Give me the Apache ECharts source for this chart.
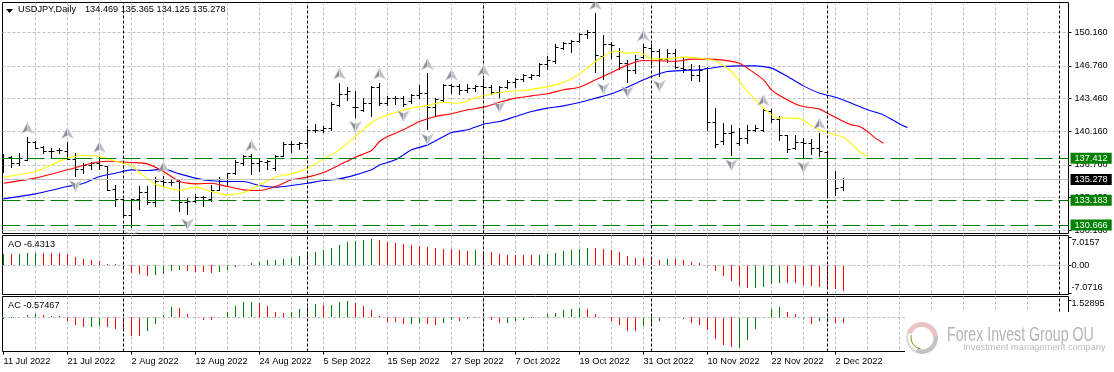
<!DOCTYPE html>
<html lang="en">
<head>
    <meta charset="UTF-8">
    <title>USDJPY Daily</title>
    <script src="https://cdn.jsdelivr.net/npm/echarts@6/dist/echarts.min.js"></script>
    <style>
        html, body { margin: 0; padding: 0; background: #fff; }
    </style>
</head>
<body>
    <div id="chart" style="width: 1114px; height: 372px;"></div>
    <script>
        // bar prices, one row per 10 bars
        var opens = [
            136.92,137.49,136.92,137.19,139.01,138.54,138.10,138.17,138.10,137.33,
            136.25,136.69,136.92,136.58,134.23,133.22,131.64,133.22,133.96,132.95,
            135.07,134.97,135.07,132.95,133.05,133.49,133.22,134.16,135.07,135.84,
            136.92,137.59,136.85,137.02,136.42,137.63,138.77,138.84,138.94,140.22,
            140.19,140.46,142.71,143.82,142.58,142.21,142.91,144.60,142.98,143.49,
            143.49,143.15,143.76,143.93,142.58,143.22,144.77,144.67,144.26,144.50,
            144.67,144.60,144.09,144.60,145.07,145.34,145.61,145.78,146.92,147.19,
            148.54,149.04,149.21,149.95,150.15,147.70,148.87,147.70,147.02,146.25,
            147.63,148.54,148.20,147.43,148.03,146.52,146.35,145.74,146.52,141.03,
            139.11,139.95,138.94,139.45,140.22,140.22,142.14,141.30,139.68,138.37,
            139.01,138.94,138.44,138.03,135.31,134.469
        ];
        var highs = [
            137.76,137.59,137.93,139.51,139.11,138.61,138.37,138.44,139.01,137.86,
            136.85,137.02,137.59,136.58,134.67,133.29,133.22,134.56,134.56,135.51,
            135.57,135.24,135.24,133.39,133.72,133.55,134.67,135.51,135.91,137.19,
            137.70,137.76,137.26,137.19,137.70,139.01,139.11,139.04,140.29,140.86,
            140.63,143.08,145.00,144.60,144.16,143.49,144.67,145.00,143.66,143.66,
            143.66,143.89,144.73,145.95,143.49,144.83,144.90,144.83,144.83,144.77,
            145.34,144.77,144.67,145.24,145.51,145.84,145.91,147.02,147.70,148.87,
            149.14,149.31,150.05,150.29,152.01,149.78,149.14,148.47,147.26,147.80,
            148.87,148.87,148.37,148.37,148.44,147.63,146.92,146.79,146.59,142.48,
            140.89,140.69,140.46,140.69,140.69,142.31,142.31,141.63,139.72,139.68,
            139.45,139.35,139.95,138.10,136.08,135.365
        ];
        var lows = [
            135.98,136.48,136.69,137.19,138.37,137.86,137.36,137.93,137.33,135.57,
            135.84,136.25,136.25,134.16,132.54,131.60,130.42,132.21,132.71,132.54,
            134.56,134.67,132.04,131.70,132.98,132.54,133.05,134.13,134.67,135.74,
            136.69,135.81,136.08,136.25,136.15,137.59,138.00,138.27,138.44,140.02,
            140.05,140.22,142.65,143.25,141.57,142.14,141.64,142.75,142.71,142.81,
            142.65,142.98,143.42,140.29,141.74,143.15,144.00,143.89,144.09,144.16,
            143.89,143.89,143.55,144.50,144.60,145.17,145.34,145.68,146.35,147.02,
            148.37,148.10,149.14,149.48,146.08,145.41,147.46,146.42,145.07,145.95,
            147.53,146.92,145.68,147.12,146.52,146.11,145.24,145.17,140.19,138.54,
            138.84,137.70,138.71,138.94,140.12,140.12,141.06,139.21,138.03,138.27,
            137.46,137.76,137.59,133.55,133.62,134.125
        ];
        var closes = [
            137.43,136.92,137.43,139.01,138.44,138.07,138.10,138.17,137.33,136.25,
            136.65,136.92,136.65,134.16,133.22,131.64,133.22,133.96,132.95,135.07,
            134.97,134.97,132.95,133.02,133.49,133.42,134.16,135.07,135.91,137.02,
            137.59,136.85,137.06,137.09,137.63,138.77,138.84,138.87,140.22,140.19,
            140.46,142.81,143.82,144.16,142.58,142.91,144.60,142.98,143.49,143.49,
            142.88,143.76,143.93,142.58,143.32,144.77,144.67,144.26,144.50,144.67,
            144.60,144.09,144.60,145.07,145.34,145.74,145.78,146.92,147.26,148.64,
            149.04,149.21,149.95,150.15,147.76,148.87,148.81,147.02,146.25,147.36,
            148.60,148.20,147.43,148.03,146.59,146.35,145.74,146.28,141.03,138.77,
            139.88,140.02,139.45,140.22,140.39,142.24,141.30,139.68,138.27,139.01,
            138.94,138.44,138.10,135.31,134.33,135.278
        ];

        // moving averages as [bar, price] readings
        var lipsLine = [[0,135.51],[4,136.08],[6,136.75],[8,137.43],[10,137.70],[12,137.59],[14,137.12],[16,136.69],[17,135.98],[19,134.80],[21,134.33],[22,134.19],[24,134.50],[26,134.06],[28,133.72],[30,133.96],[32,134.73],[34,135.51],[36,135.84],[38,136.42],[40,137.33],[42,138.27],[44,139.62],[46,141.03],[47,141.47],[49,142.04],[51,142.48],[53,142.75],[55,143.08],[57,142.98],[59,143.55],[61,143.89],[63,144.16],[65,144.26],[67,144.50],[69,144.83],[71,145.44],[73,146.52],[74,147.19],[75,147.70],[76,148.13],[77,148.20],[78,148.03],[79,148.13],[80,147.93],[81,147.46],[83,147.46],[85,147.63],[87,147.53],[89,147.26],[91,146.18],[92,145.17],[93,144.16],[94,143.32],[95,142.48],[96,141.80],[97,141.47],[99,141.47],[100,141.23],[101,140.69],[102,140.29],[103,140.02],[104,139.78],[105,139.55],[106,138.87],[107,138.10],[108,137.59]];
        var teethLine = [[0,134.90],[4,135.41],[8,136.25],[11,136.92],[13,137.12],[16,136.99],[18,136.85],[20,136.08],[22,135.07],[24,134.83],[26,134.90],[28,134.56],[30,134.23],[32,134.16],[34,134.56],[36,135.24],[38,135.51],[40,135.98],[42,136.75],[44,137.53],[46,138.20],[47,139.11],[48,139.62],[50,140.29],[52,141.13],[54,141.64],[56,141.91],[58,142.31],[60,142.58],[62,143.08],[64,143.49],[66,143.72],[68,143.93],[70,144.33],[72,144.60],[74,145.34],[76,146.08],[78,146.85],[80,147.29],[82,147.26],[84,147.22],[86,147.43],[88,147.43],[90,147.33],[92,147.02],[93,146.52],[95,145.34],[96,144.33],[97,143.76],[99,142.91],[100,142.65],[102,142.38],[103,141.97],[105,141.13],[106,140.79],[107,140.63],[108,140.12],[109,139.45],[110,138.94]];
        var jawLine = [[0,133.32],[4,133.82],[8,134.56],[10,134.90],[12,135.57],[14,135.91],[16,136.25],[18,136.18],[20,136.32],[22,135.84],[24,135.41],[26,135.14],[28,135.07],[30,135.07],[32,134.67],[34,134.50],[36,134.67],[38,134.90],[40,135.17],[42,135.34],[44,135.74],[46,136.25],[47,136.75],[48,136.99],[49,137.26],[50,137.76],[51,138.27],[53,138.77],[55,139.62],[56,140.02],[58,140.29],[60,140.86],[62,141.13],[64,141.64],[66,142.14],[68,142.48],[70,142.71],[72,143.05],[74,143.49],[76,143.93],[78,144.60],[80,145.34],[81,145.68],[83,146.18],[85,146.28],[87,146.35],[89,146.59],[90,146.69],[92,146.75],[94,146.75],[96,146.52],[98,145.68],[100,144.73],[102,143.99],[104,143.59],[106,142.98],[108,142.31],[110,141.80],[112,140.89],[113,140.52]];

        // bars carrying a fractal arrow
        var fractalUp = [3,8,12,20,31,42,47,53,56,60,74,80,95,102];
        var fractalDown = [9,16,23,44,50,53,62,75,78,82,91,100];

        // oscillators, one row per 10 bars
        var aoValues = [
            2.58,2.58,2.58,2.83,2.83,2.83,2.83,2.83,2.58,1.83,
            1.33,1.08,0.83,0.25,0.17,-0.92,-2.00,-2.42,-2.92,-2.67,
            -2.25,-1.67,-1.42,-1.58,-1.83,-1.83,-2.17,-1.92,-1.42,-0.67,
            0.02,0.42,0.67,1.08,1.08,1.33,1.58,2.08,2.83,3.08,
            3.58,4.08,4.83,5.58,5.92,6.08,6.33,6.08,5.67,5.42,
            5.17,4.83,4.58,4.33,4.08,3.83,3.83,3.58,3.33,3.58,
            3.33,3.08,2.58,2.50,2.42,2.33,2.33,2.33,2.67,2.83,
            3.33,3.58,3.83,4.08,4.08,3.83,3.58,3.08,2.08,1.58,
            1.58,1.33,1.08,1.33,1.33,1.08,0.58,0.33,-0.33,-1.67,
            -2.92,-4.17,-5.42,-5.92,-5.92,-5.67,-4.92,-4.67,-4.67,-4.67,
            -5.17,-5.42,-5.50,-5.67,-6.17,-6.4313
        ];
        var aoRising = [
            1,0,1,1,1,0,0,0,0,0,
            0,0,0,0,0,0,0,0,0,1,
            1,1,1,0,0,0,0,1,1,1,
            1,1,1,1,1,1,1,1,1,1,
            1,1,1,1,1,1,1,0,0,0,
            0,0,0,0,0,0,0,0,0,1,
            0,0,0,0,0,0,0,1,1,1,
            1,1,1,1,0,0,0,0,0,0,
            0,0,0,1,0,0,0,0,0,0,
            0,0,0,0,1,1,1,1,0,0,
            0,0,0,0,0,0
        ];
        var acValues = [
            -0.18,-0.12,0,0.12,0.30,0.12,0.06,0.03,-0.36,-0.70,
            -0.94,-0.97,-0.88,-0.97,-1.15,-1.30,-1.70,-1.70,-1.33,-0.61,
            0.18,0.85,0.76,0.30,0,-0.33,-0.33,0,0.48,0.94,
            1.39,1.39,1.21,0.94,0.48,0.39,0.48,0.67,0.85,1.12,
            1.03,1.03,1.39,1.48,1.21,0.94,0.61,0.03,-0.45,-0.48,
            -0.61,-0.61,-0.52,-0.61,-0.70,-0.52,-0.33,-0.42,-0.24,-0.15,
            -0.18,-0.33,-0.52,-0.52,-0.42,-0.33,-0.15,-0.06,0.24,0.39,
            0.58,0.67,0.76,0.67,0.30,-0.12,-0.42,-0.79,-1.33,-1.33,
            -0.88,-0.61,-0.42,0,0,-0.24,-0.52,-0.70,-1.24,-2.06,
            -2.52,-2.79,-2.82,-2.15,-1.15,-0.15,0.67,0.85,0.48,0.21,
            -0.24,-0.61,-0.42,-0.48,-0.52,-0.57467
        ];
        var acRising = [
            1,1,1,1,1,0,0,0,0,0,
            0,1,1,0,0,0,0,0,1,1,
            1,1,0,0,0,0,0,1,1,1,
            1,1,0,0,0,0,1,1,1,1,
            0,1,1,1,0,0,0,0,0,0,
            0,1,1,0,0,1,1,0,1,1,
            0,0,0,1,1,1,1,1,1,1,
            1,1,1,0,0,0,0,0,0,0,
            1,1,1,1,1,0,0,0,0,0,
            0,0,1,1,1,1,1,1,0,0,
            0,0,1,1,0,0
        ];

        // axis ticks and levels
        var dateLabels = ['11 Jul 2022','21 Jul 2022','2 Aug 2022','12 Aug 2022','24 Aug 2022','5 Sep 2022','15 Sep 2022','27 Sep 2022','7 Oct 2022','19 Oct 2022','31 Oct 2022','10 Nov 2022','22 Nov 2022','2 Dec 2022'];
        var dateBars = [0,8,16,24,32,40,48,56,64,72,80,88,96,104];
        var gridBars = [4,8,12,16,20,24,28,32,36,40,44,48,52,56,60,64,68,72,76,80,84,88,92,96,100,104,108,112,116,120,124,128];
        var periodBars = [15,38,60,81,103,132];
        var priceTicks = [150.16,146.76,143.46,140.16,136.76,133.46,130.16];
        var aoTicks = [7.0157,0,-7.0716];
        var acTicks = [1.52895];
        var levelLines = [137.412,133.183,130.666];
        var lastPrice = 135.278;

        var labelFont = 'Liberation Sans';
        var labelSize = 9.2;
        var gridColor = '#c0c0c0';

        function crisp(v) {
            return Math.floor(v) + 0.5;
        }

        // open tick on the left, close tick on the right
        function renderBar(params, api) {
            var i = api.value(0);
            var top = api.coord([i, api.value(2)]);
            var bottom = api.coord([i, api.value(3)]);
            var x = crisp(top[0]);
            var yOpen = crisp(api.coord([i, api.value(1)])[1]);
            var yClose = crisp(api.coord([i, api.value(4)])[1]);
            var style = { stroke: '#000', lineWidth: 1 };
            return {
                type: 'group',
                children: [
                    { type: 'line', shape: { x1: x, y1: Math.floor(top[1]), x2: x, y2: Math.floor(bottom[1]) + 1 }, style: style },
                    { type: 'line', shape: { x1: x - 3, y1: yOpen, x2: x, y2: yOpen }, style: style },
                    { type: 'line', shape: { x1: x, y1: yClose, x2: x + 3, y2: yClose }, style: style }
                ]
            };
        }

        function makeArrowRender(dir) {
            return function (params, api) {
                var p = api.coord([api.value(0), api.value(1)]);
                var cx = crisp(p[0]);
                var cy = p[1] - dir * 9;
                return {
                    type: 'group',
                    children: [
                        { type: 'polygon', shape: { points: [[cx, cy - dir * 6], [cx - 6, cy + dir * 5], [cx, cy + dir * 2]] }, style: { fill: '#8f8f8f', stroke: '#cfd6e2', lineWidth: 0.6 } },
                        { type: 'polygon', shape: { points: [[cx, cy - dir * 6], [cx + 6, cy + dir * 5], [cx, cy + dir * 2]] }, style: { fill: '#bcbfc4', stroke: '#cfd6e2', lineWidth: 0.6 } }
                    ]
                };
            };
        }

        function renderStick(params, api) {
            var i = api.value(0);
            var a = api.coord([i, 0]);
            var b = api.coord([i, api.value(1)]);
            var x = crisp(a[0]);
            return {
                type: 'line',
                shape: { x1: x, y1: Math.floor(a[1]), x2: x, y2: Math.floor(b[1]) },
                style: { stroke: api.value(2) ? '#008000' : '#ff0000', lineWidth: 1 }
            };
        }

        function zipBars() {
            return opens.map(function (o, i) {
                return [i, o, highs[i], lows[i], closes[i]];
            });
        }

        function makeLine(name, color, data) {
            return {
                name: name, type: 'line', data: data, xAxisIndex: 0, yAxisIndex: 0,
                showSymbol: false, silent: true, z: 4, animation: false, smooth: 0.2,
                lineStyle: { color: color, width: 1.1 }
            };
        }

        function periodSeries(idx) {
            return {
                type: 'line', data: [], xAxisIndex: idx, yAxisIndex: idx, z: 6, animation: false,
                markLine: {
                    silent: true, symbol: 'none', animation: false, label: { show: false },
                    lineStyle: { color: '#000', width: 1, type: [3, 2] },
                    data: periodBars.map(function (b) { return { xAxis: b }; })
                }
            };
        }

        function zeroSeries(idx) {
            return {
                type: 'line', data: [], xAxisIndex: idx, yAxisIndex: idx, z: 1, animation: false,
                markLine: {
                    silent: true, symbol: 'none', animation: false, label: { show: false },
                    lineStyle: { color: gridColor, width: 1, type: [3, 2] },
                    data: [{ yAxis: 0 }]
                }
            };
        }

        function tagLine(value, bg, lineStyle) {
            return {
                yAxis: value,
                lineStyle: lineStyle,
                label: {
                    show: true, position: 'end', distance: 2, color: '#fff', backgroundColor: bg,
                    padding: [1, 4, 1, 4], fontFamily: labelFont, fontSize: labelSize,
                    formatter: value.toFixed(3)
                }
            };
        }

        function hiddenX(grid) {
            return {
                type: 'value', gridIndex: grid, min: -0.125, max: 133.125,
                axisLine: { show: false, onZero: false }, axisLabel: { show: false },
                axisTick: { show: false, customValues: gridBars },
                splitLine: { show: true, lineStyle: { color: gridColor, width: 1, type: [3, 2] } }
            };
        }

        var chart = echarts.init(document.getElementById('chart'), null, { renderer: 'canvas' });

        var series = [
            {
                type: 'line', data: [], xAxisIndex: 0, yAxisIndex: 0, z: 2, animation: false,
                markLine: {
                    silent: true, symbol: 'none', animation: false,
                    data: levelLines.map(function (v) {
                        return tagLine(v, '#008000', { color: '#008000', width: 1, type: [18, 6] });
                    }).concat([tagLine(lastPrice, '#000', { color: '#c0c0c0', width: 1, type: 'solid' })])
                }
            },
            {
                type: 'custom', renderItem: renderBar, clip: true, silent: true, z: 3, animation: false,
                xAxisIndex: 0, yAxisIndex: 0, data: zipBars(), encode: { x: 0, y: [1, 2, 3, 4] }
            },
            makeLine('Jaw', '#0000ff', jawLine),
            makeLine('Teeth', '#ff0000', teethLine),
            makeLine('Lips', '#ffff00', lipsLine),
            {
                type: 'custom', renderItem: makeArrowRender(1), clip: true, silent: true, z: 5, animation: false,
                xAxisIndex: 0, yAxisIndex: 0, encode: { x: 0, y: 1 },
                data: fractalUp.map(function (b) { return [b, highs[b]]; })
            },
            {
                type: 'custom', renderItem: makeArrowRender(-1), clip: true, silent: true, z: 5, animation: false,
                xAxisIndex: 0, yAxisIndex: 0, encode: { x: 0, y: 1 },
                data: fractalDown.map(function (b) { return [b, lows[b]]; })
            },
            {
                type: 'custom', renderItem: renderStick, clip: true, silent: true, z: 3, animation: false,
                xAxisIndex: 1, yAxisIndex: 1, encode: { x: 0, y: 1 },
                data: aoValues.map(function (v, i) { return [i, v, aoRising[i]]; })
            },
            {
                type: 'custom', renderItem: renderStick, clip: true, silent: true, z: 3, animation: false,
                xAxisIndex: 2, yAxisIndex: 2, encode: { x: 0, y: 1 },
                data: acValues.map(function (v, i) { return [i, v, acRising[i]]; })
            },
            zeroSeries(1), zeroSeries(2),
            periodSeries(0), periodSeries(1), periodSeries(2)
        ];

        var frame = { show: true, borderColor: '#000', borderWidth: 1, backgroundColor: '#fff' };

        chart.setOption({
            animation: false,
            backgroundColor: '#fff',
            textStyle: { fontFamily: labelFont },
            grid: [
                Object.assign({ left: 2.5, top: 2.5, width: 1066, height: 231 }, frame),
                Object.assign({ left: 2.5, top: 235.5, width: 1066, height: 59 }, frame),
                Object.assign({ left: 2.5, top: 296.5, width: 1066, height: 55 }, frame)
            ],
            xAxis: [
                hiddenX(0), hiddenX(1), hiddenX(2),
                {
                    type: 'value', gridIndex: 2, position: 'bottom', min: -0.125, max: 133.125,
                    axisLine: { show: false, onZero: false }, splitLine: { show: false },
                    axisTick: { show: true, length: 3, lineStyle: { color: '#000' }, customValues: dateBars },
                    axisLabel: {
                        show: true, customValues: dateBars, align: 'left', margin: 5, color: '#000',
                        fontFamily: labelFont, fontSize: labelSize, hideOverlap: false,
                        formatter: function (v) { return dateLabels[dateBars.indexOf(v)]; }
                    }
                }
            ],
            yAxis: [
                {
                    type: 'value', gridIndex: 0, position: 'right', min: 129.82, max: 153.15,
                    axisLine: { show: false, onZero: false },
                    axisTick: { show: true, length: 3, lineStyle: { color: '#000' }, customValues: priceTicks },
                    splitLine: { show: true, lineStyle: { color: gridColor, width: 1, type: [3, 2] } },
                    axisLabel: {
                        show: true, customValues: priceTicks, margin: 6, color: '#000', align: 'left',
                        fontFamily: labelFont, fontSize: labelSize, hideOverlap: false,
                        formatter: function (v) { return v.toFixed(3); }
                    }
                },
                {
                    type: 'value', gridIndex: 1, position: 'right', min: -7.3, max: 7.45,
                    axisLine: { show: false, onZero: false }, splitLine: { show: false },
                    axisTick: { show: true, length: 3, lineStyle: { color: '#000' }, customValues: aoTicks },
                    axisLabel: {
                        show: true, customValues: aoTicks, margin: 3, color: '#000', align: 'left',
                        hideOverlap: false,
                        formatter: function (v) {
                            if (v > 0) return '{t|' + v + '}';
                            if (v < 0) return '{b|' + v + '}';
                            return '{m|0.00}';
                        },
                        rich: {
                            t: { fontFamily: labelFont, fontSize: labelSize, padding: [11, 0, 0, 0] },
                            b: { fontFamily: labelFont, fontSize: labelSize, padding: [0, 0, 12, 0] },
                            m: { fontFamily: labelFont, fontSize: labelSize }
                        }
                    }
                },
                {
                    type: 'value', gridIndex: 2, position: 'right', min: -3.109, max: 1.891,
                    axisLine: { show: false, onZero: false }, splitLine: { show: false },
                    axisTick: { show: true, length: 3, lineStyle: { color: '#000' }, customValues: acTicks },
                    axisLabel: {
                        show: true, customValues: acTicks, margin: 3, color: '#000', align: 'left',
                        hideOverlap: false,
                        formatter: function (v) { return '{t|' + v + '}'; },
                        rich: { t: { fontFamily: labelFont, fontSize: labelSize, padding: [5, 0, 0, 0] } }
                    }
                }
            ],
            series: series,
            graphic: [
                // header texts
                { type: 'polygon', z: 50, shape: { points: [[6, 9], [13, 9], [9.5, 13]] }, style: { fill: '#000' } },
                { type: 'text', z: 50, x: 18, y: 5, style: { text: 'USDJPY,Daily', fill: '#000', font: labelSize + 'px ' + labelFont } },
                { type: 'text', z: 50, x: 85, y: 5, style: { text: '134.469 135.365 134.125 135.278', fill: '#000', font: labelSize + 'px ' + labelFont } },
                { type: 'text', z: 50, x: 8, y: 240, style: { text: 'AO -6.4313', fill: '#000', font: labelSize + 'px ' + labelFont } },
                { type: 'text', z: 50, x: 8, y: 301, style: { text: 'AC -0.57467', fill: '#000', font: labelSize + 'px ' + labelFont } },
                // logo box in the corner
                { type: 'rect', z: 100, shape: { x: 905, y: 312, width: 209, height: 60 }, style: { fill: '#fff' } },
                { type: 'sector', z: 101, shape: { cx: 922, cy: 338, r: 16, r0: 11, startAngle: -2.8, endAngle: -0.15 }, style: { fill: '#e9c4c4' } },
                { type: 'sector', z: 101, shape: { cx: 922, cy: 338, r: 16, r0: 11.5, startAngle: -0.15, endAngle: 2 }, style: { fill: '#c4c4c4' } },
                { type: 'sector', z: 101, shape: { cx: 922, cy: 338, r: 16, r0: 14, startAngle: 2, endAngle: 3.5 }, style: { fill: '#dcd6d6' } },
                { type: 'arc', z: 102, shape: { cx: 922, cy: 338, r: 11, startAngle: 1.7, endAngle: 3.4 }, style: { stroke: '#6f9a10', fill: 'none', lineWidth: 1 } },
                { type: 'text', z: 101, x: 947, y: 325, scaleX: 0.71, style: { text: 'Forex Invest Group OU', fill: '#b4b4b4', font: '20px ' + labelFont } },
                { type: 'text', z: 101, x: 963, y: 343, style: { text: 'Investment management company', fill: '#bcbcbc', font: '9.3px ' + labelFont } }
            ]
        });
    </script>
</body>
</html>
